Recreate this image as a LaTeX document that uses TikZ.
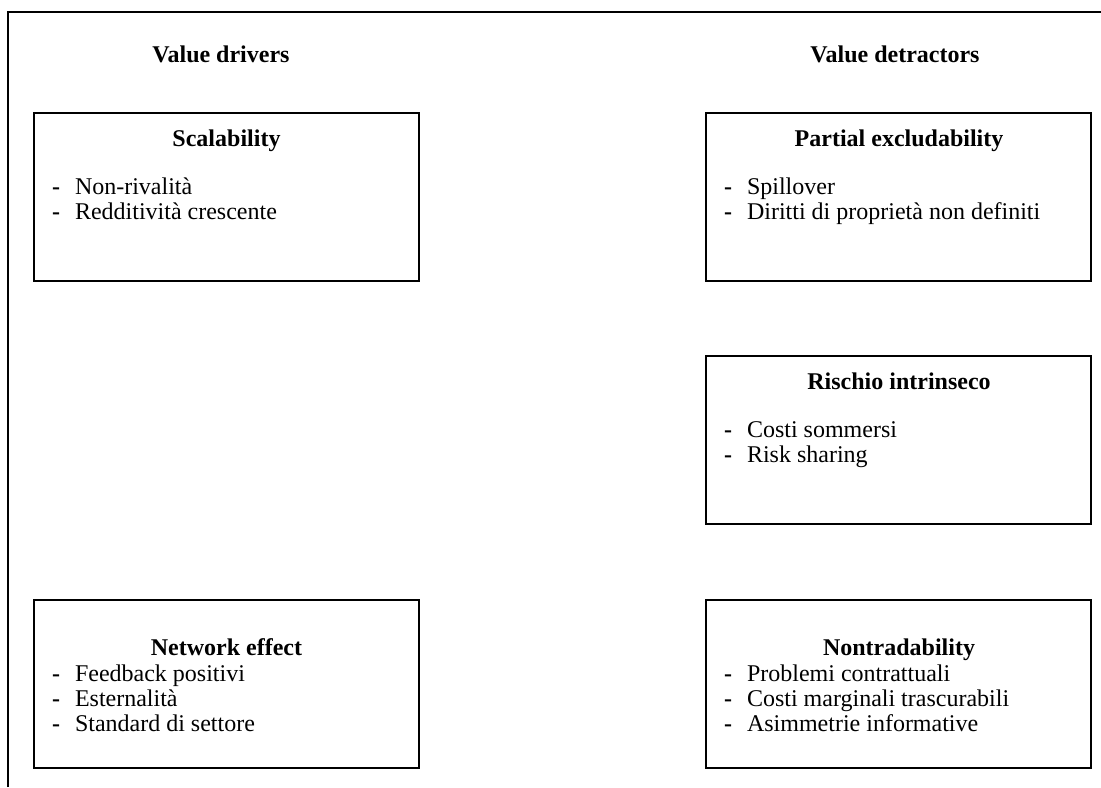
\documentclass[tikz,border=0pt]{standalone}
\usepackage{fontspec}
\setmainfont{Liberation Serif}
\begin{document}
\begin{tikzpicture}[x=0.5pt,y=-0.5pt,
  every node/.style={inner sep=0pt,outer sep=0pt,font=\fontsize{12}{14}\selectfont},
  frameline/.style={line width=1pt},
  panel/.style={draw,line width=1pt,anchor=north west,minimum width=192.5pt,minimum height=84pt},
  heading/.style={anchor=base,font=\fontsize{12}{14}\selectfont\bfseries},
  ptitle/.style={anchor=base,font=\fontsize{12}{14}\selectfont\bfseries},
  item/.style={anchor=base west}]
\useasboundingbox (0,0) rectangle (1101,787);

% outer frame: top rule and left rule only
\draw[frameline] (8,787) -- (8,12) -- (1101,12);

% column headings
\node[heading] (hdrive) at (221,62) {Value drivers};
\node[heading] (hdetr) at (895,62) {Value detractors};

\newcommand{\dashitem}[1]{\makebox[11.5pt][l]{\textbf{-}}#1}

% left column
\node[panel] (scal) at (34,113) {};
\node[ptitle] (scalT) at (226.5,146) {Scalability};
\node[item] (scal1) at (52,194) {\dashitem{Non-rivalità}};
\node[item] (scal2) at (52,219) {\dashitem{Redditività crescente}};

\node[panel] (net) at (34,600) {};
\node[ptitle] (netT) at (226.5,655) {Network effect};
\node[item] (net1) at (52,681) {\dashitem{Feedback positivi}};
\node[item] (net2) at (52,706) {\dashitem{Esternalità}};
\node[item] (net3) at (52,731) {\dashitem{Standard di settore}};

% right column
\node[panel] (part) at (706,113) {};
\node[ptitle] (partT) at (899,146) {Partial excludability};
\node[item] (part1) at (724,194) {\dashitem{Spillover}};
\node[item] (part2) at (724,219) {\dashitem{Diritti di proprietà non definiti}};

\node[panel] (risk) at (706,356) {};
\node[ptitle] (riskT) at (899,389) {Rischio intrinseco};
\node[item] (risk1) at (724,437) {\dashitem{Costi sommersi}};
\node[item] (risk2) at (724,462) {\dashitem{Risk sharing}};

\node[panel] (ntr) at (706,600) {};
\node[ptitle] (ntrT) at (899,655) {Nontradability};
\node[item] (ntr1) at (724,681) {\dashitem{Problemi contrattuali}};
\node[item] (ntr2) at (724,706) {\dashitem{Costi marginali trascurabili}};
\node[item] (ntr3) at (724,731) {\dashitem{Asimmetrie informative}};
\end{tikzpicture}
\end{document}
